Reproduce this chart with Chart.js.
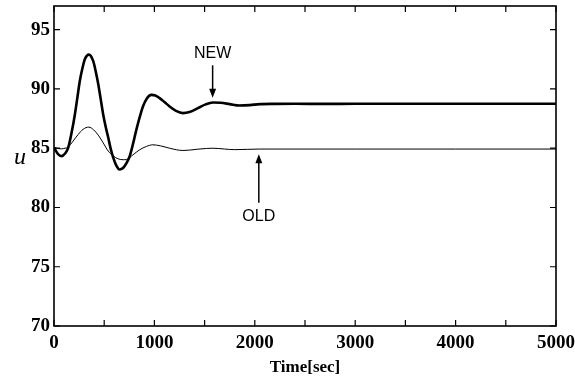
<!DOCTYPE html>
<html><head><meta charset="utf-8">
<script src="https://cdn.jsdelivr.net/npm/chart.js@4/dist/chart.umd.min.js"></script>
<style>html,body{margin:0;padding:0;background:#fff}#wrap{width:575px;height:376px}</style>
</head><body><div id="wrap"><canvas id="c" width="575" height="376"></canvas></div>
<script>
const timeNew = [0,40,75,110,141,175,208,235,257,282,307,347,391,415,441,465,490,515,540,565,590,620,653,690,723,753,785,820,853,886,925,969,1010,1052,1100,1152,1215,1284,1350,1434,1510,1583,1660,1750,1850,1950,2050,2200,2400,2700,3000,3500,4000,4500,5000];
const uNew    = [85.05,84.5,84.33,84.55,85.03,86.3,87.85,89.4,90.67,91.7,92.5,92.9,92.35,91.5,90.4,89.15,87.85,86.8,85.9,84.95,84.2,83.55,83.2,83.35,83.77,84.3,85.3,86.55,87.6,88.52,89.2,89.5,89.45,89.23,88.9,88.52,88.15,87.96,88.05,88.38,88.7,88.86,88.83,88.72,88.6,88.64,88.72,88.74,88.75,88.74,88.75,88.75,88.75,88.75,88.75];
const timeOld = [0,40,75,110,141,190,241,290,347,395,441,490,540,590,640,690,723,786,850,920,985,1060,1152,1220,1284,1350,1434,1520,1583,1700,1800,2050,2500,3000,4000,5000];
const uOld    = [85.1,84.97,84.95,85.0,85.1,85.6,86.16,86.6,86.78,86.55,86.1,85.45,84.76,84.35,84.1,84.03,84.05,84.44,84.85,85.15,85.29,85.2,85.0,84.87,84.81,84.84,84.92,84.98,85.0,84.93,84.88,84.93,84.93,84.93,84.93,84.93];
const xTicks = [0,1000,2000,3000,4000,5000];
const yTicks = [70,75,80,85,90,95];
const xMinor = [0,500,1000,1500,2000,2500,3000,3500,4000,4500,5000];
const annotations = [
  {text:'NEW', x:1580, yText:92.95, yFrom:92.0, yTo:89.25},
  {text:'OLD', x:2040, yText:79.25, yFrom:80.4, yTo:84.5}
];

const toPts = (xs, ys) => xs.map((x,i)=>({x:x, y:ys[i]}));

const frame = {
  id:'frame',
  afterDraw(chart){
    const ctx = chart.ctx, a = chart.chartArea, xs = chart.scales.x, ys = chart.scales.y;
    ctx.save();
    ctx.strokeStyle = '#000';
    ctx.lineWidth = 1.6;
    ctx.strokeRect(a.left, a.top, a.right-a.left, a.bottom-a.top);
    ctx.lineWidth = 1.2;
    ctx.beginPath();
    xMinor.forEach(v=>{
      const p = xs.getPixelForValue(v);
      ctx.moveTo(p, a.bottom); ctx.lineTo(p, a.bottom-6);
      ctx.moveTo(p, a.top); ctx.lineTo(p, a.top+6);
    });
    yTicks.forEach(v=>{
      const p = ys.getPixelForValue(v);
      ctx.moveTo(a.left, p); ctx.lineTo(a.left+6, p);
      ctx.moveTo(a.right, p); ctx.lineTo(a.right-6, p);
    });
    ctx.stroke();
    ctx.fillStyle = '#000';
    ctx.font = '16px "Liberation Sans", Arial, sans-serif';
    ctx.textAlign = 'center';
    ctx.textBaseline = 'middle';
    annotations.forEach(an=>{
      const px = xs.getPixelForValue(an.x);
      ctx.fillText(an.text, px, ys.getPixelForValue(an.yText));
      const y1 = ys.getPixelForValue(an.yFrom), y2 = ys.getPixelForValue(an.yTo);
      const dir = Math.sign(y2-y1);
      ctx.lineWidth = 1.5;
      ctx.beginPath(); ctx.moveTo(px, y1); ctx.lineTo(px, y2 - dir*6); ctx.stroke();
      ctx.beginPath(); ctx.moveTo(px, y2); ctx.lineTo(px-3.5, y2-dir*9); ctx.lineTo(px+3.5, y2-dir*9); ctx.closePath(); ctx.fill();
    });
    ctx.font = 'italic 24px "Liberation Serif", "Times New Roman", serif';
    ctx.fillText('u', 20, ys.getPixelForValue(84.2));
    ctx.font = 'bold 17px "Liberation Serif", "Times New Roman", serif';
    ctx.textBaseline = 'alphabetic';
    ctx.fillText('Time[sec]', (a.left+a.right)/2, 372);
    ctx.restore();
  }
};

const tickFont = {family:'"Liberation Serif", "Times New Roman", serif', size:19, weight:'bold'};

new Chart(document.getElementById('c'), {
  type:'line',
  data:{datasets:[
    {label:'NEW', data:toPts(timeNew,uNew), borderColor:'#000', borderWidth:2.6, pointRadius:0, cubicInterpolationMode:'monotone', fill:false},
    {label:'OLD', data:toPts(timeOld,uOld), borderColor:'#000', borderWidth:1, pointRadius:0, cubicInterpolationMode:'monotone', fill:false}
  ]},
  options:{
    responsive:false, animation:false, devicePixelRatio:1,
    layout:{padding:{left:0, right:19, top:6, bottom:0}},
    plugins:{legend:{display:false}, tooltip:{enabled:false}},
    scales:{
      x:{type:'linear', min:0, max:5000,
        afterFit(s){ s.height = 50; s.paddingLeft = 0; s.paddingRight = 0; },
        afterBuildTicks(s){ s.ticks = xTicks.map(v=>({value:v})); },
        grid:{display:false, drawTicks:false}, border:{display:false},
        ticks:{color:'#000', padding:6, maxRotation:0, autoSkip:false, font:tickFont, callback:v=>String(v)}
      },
      y:{type:'linear', min:70, max:97,
        afterFit(s){ s.width = 54; s.paddingTop = 0; s.paddingBottom = 0; },
        afterBuildTicks(s){ s.ticks = yTicks.map(v=>({value:v})); },
        grid:{display:false, drawTicks:false}, border:{display:false},
        ticks:{color:'#000', padding:4, autoSkip:false, font:tickFont, callback:v=>String(v)}
      }
    }
  },
  plugins:[frame]
});
</script>
</body></html>
